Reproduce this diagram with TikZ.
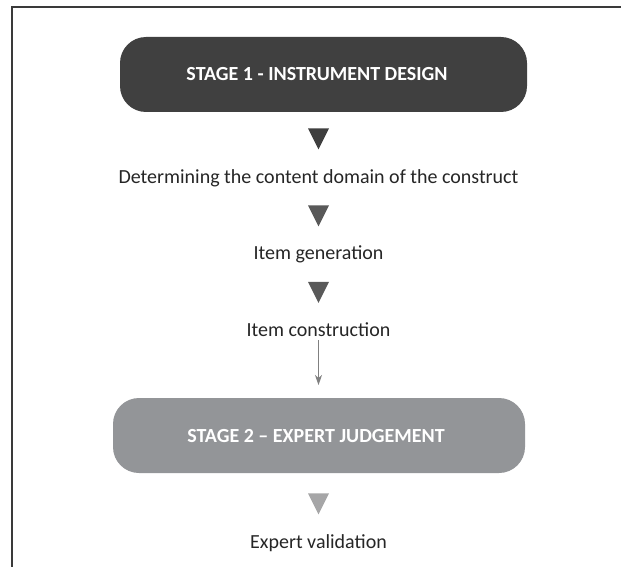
\documentclass[tikz,border=0pt]{standalone}
\usepackage{fontspec}
\setmainfont{Carlito}
\usetikzlibrary{arrows.meta,shapes.geometric}
\definecolor{stageone}{HTML}{404040}
\definecolor{stagetwo}{HTML}{939598}
\definecolor{tridark}{HTML}{3F3F3F}
\definecolor{trimid}{HTML}{595959}
\definecolor{trilight}{HTML}{A6A6A7}
\definecolor{framecol}{HTML}{3A3A3A}
\definecolor{bodytext}{HTML}{262626}
\tikzset{
  stagebox/.style={rounded corners=26pt, minimum height=75pt, inner sep=0pt},
  stagetitle/.style={text=white, inner sep=0pt, anchor=base,
    font=\fontsize{20}{24}\selectfont\bfseries},
  steptext/.style={font=\fontsize{20}{24}\selectfont, text=bodytext, inner sep=0pt, anchor=base},
  tri/.style={isosceles triangle, isosceles triangle stretches, shape border rotate=-90,
    minimum height=21pt, minimum width=21pt, inner sep=0pt, draw=none, anchor=apex}
}
\begin{document}
\begin{tikzpicture}[x=1pt,y=-1pt]
\useasboundingbox (0,0) rectangle (621,567);
\fill[white] (0,0) rectangle (621,567);
% page frame: top and left rules
\draw[framecol, line width=2pt] (12,567) -- (12,7) -- (621,7);

% stage 1
\node[stagebox, fill=stageone, minimum width=407pt] (s1) at (323.5,74.5) {};
\node[stagetitle] (s1t) at (317,81) {STAGE 1 - INSTRUMENT DESIGN};
\node[tri, fill=tridark] (t1) at (318.5,150) {};
\node[steptext] (d1) at (318.5,183) {Determining the content domain of the construct};
\node[tri, fill=trimid] (t2) at (318.5,227) {};
\node[steptext] (d2) at (318.5,259.5) {Item generation};
\node[tri, fill=trimid] (t3) at (318.5,303.5) {};
\node[steptext] (d3) at (318.5,336) {Item construction};

% stage 2
\node[stagebox, fill=stagetwo, minimum width=412pt] (s2) at (319,435.5) {};
\node[stagetitle] (s2t) at (316,442.5) {STAGE 2 -- EXPERT JUDGEMENT};
\coordinate (a0) at (318.5,340);
\coordinate (a1) at (318.5,385);
\draw[gray, line width=1pt, -{Stealth[length=10pt,width=7pt,inset=3pt]}] (a0) -- (a1);
\node[tri, fill=trilight] (t4) at (318.5,515) {};
\node[steptext] (d4) at (318.5,548) {Expert validation};
\end{tikzpicture}
\end{document}
